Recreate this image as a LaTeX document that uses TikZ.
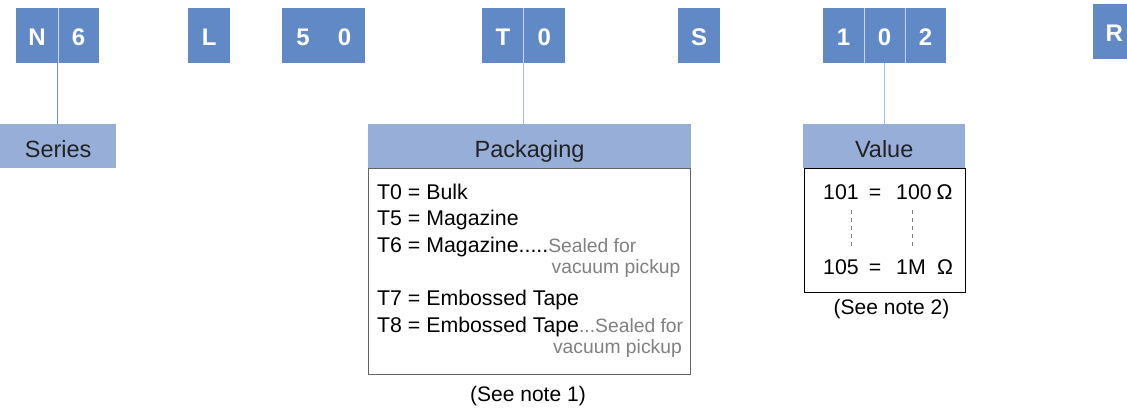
\documentclass[tikz,border=0pt]{standalone}
\usepackage{fontspec}
\setmainfont{Liberation Sans}
\usetikzlibrary{calc}
\definecolor{topblue}{RGB}{97,137,198}
\definecolor{hdrblue}{RGB}{151,174,216}
\definecolor{connA}{RGB}{108,143,203}
\definecolor{connB}{RGB}{165,188,227}
\definecolor{divcol}{RGB}{200,214,238}
\definecolor{hdrtext}{RGB}{34,34,34}
\definecolor{graytext}{RGB}{128,128,128}
\definecolor{packline}{RGB}{100,100,100}
\begin{document}
\begin{tikzpicture}[x=1pt,y=-1pt,
  cell/.style={fill=topblue, draw=none, inner sep=0pt, anchor=north west,
    minimum height=54.7pt, text=white,
    font=\fontsize{24}{24}\selectfont\bfseries, text height=19.8pt, text depth=0pt},
  divider/.style={draw=divcol, line width=0.8pt},
  hdr/.style={fill=hdrblue, draw=none, inner sep=0pt, anchor=north west,
    minimum height=44pt, text=hdrtext,
    font=\fontsize{23.5}{23.5}\selectfont, text height=22pt, text depth=0pt},
  outline/.style={inner sep=0pt, anchor=north west, line width=0.8pt},
  item/.style={inner sep=0pt, anchor=base west, font=\fontsize{21.3}{21.3}\selectfont},
  grayitem/.style={inner sep=0pt, font=\fontsize{19.3}{19.3}\selectfont, text=graytext},
  note/.style={inner sep=0pt, anchor=base, font=\fontsize{21}{21}\selectfont},
  conn/.style={line width=1pt},
  vdash/.style={draw=graytext, line width=0.8pt, dash pattern=on 4pt off 4pt}
]
\useasboundingbox (0,0) rectangle (1127,407);
\clip (0,0) rectangle (1127,407);

% top code cells
\node[cell, minimum width=41.5pt] (cN) at (16,8) {N};
\node[cell, minimum width=41.5pt] (c6) at (57.5,8) {6};
\node[cell, minimum width=42pt] (cL) at (188,8) {L};
\node[cell, minimum width=41.5pt] (c5) at (282,8) {5};
\node[cell, minimum width=41.5pt] (c0a) at (323.5,8) {0};
\node[cell, minimum width=41.4pt] (cT) at (482,8) {T};
\node[cell, minimum width=41.4pt] (c0b) at (523.4,8) {0};
\node[cell, minimum width=42pt] (cS) at (678,8) {S};
\node[cell, minimum width=40.9pt] (c1) at (823,8) {1};
\node[cell, minimum width=40.9pt] (c0c) at (863.9,8) {0};
\node[cell, minimum width=40.9pt] (c2) at (904.8,8) {2};
\node[cell, minimum width=42pt] (cR) at (1093,4) {R};

\draw[divider] (cN.north east) -- (cN.south east);
\draw[divider] (cT.north east) -- (cT.south east);
\draw[divider] (c1.north east) -- (c1.south east);
\draw[divider] (c0c.north east) -- (c0c.south east);

% header boxes
\node[hdr, minimum width=116pt] (series) at (0,124) {Series};
\node[hdr, minimum width=322.7pt] (pack) at (368,124) {Packaging};
\node[hdr, minimum width=162pt] (value) at (803,124) {Value};

% outline boxes
\node[outline, draw=packline, minimum width=322.5pt, minimum height=206pt] (packlist) at (367.5,168) {};
\node[outline, draw=black, minimum width=161pt, minimum height=124pt] (vallist) at (803.5,168) {};

% connectors
\draw[conn, draw=connA] (cN.south east) -- (cN.south east |- series.north);
\draw[conn, draw=connB] (cT.south east) -- (cT.south east |- pack.north);
\draw[conn, draw=connB] (c0c.south) -- (c0c.south |- value.north);

% packaging list
\node[item] (t0) at (377,199) {T0 = Bulk};
\node[item] (t5) at (377,225.7) {T5 = Magazine};
\node[item] (t6) at (377,252.3) {T6 = Magazine.....\textcolor{graytext}{\fontsize{19.3}{19.3}\selectfont Sealed for}};
\node[grayitem, anchor=base west] (t6b) at (551.5,273.5) {vacuum pickup};
\node[item] (t7) at (377,305.7) {T7 = Embossed Tape};
\node[item] (t8) at (377,332.3) {T8 = Embossed Tape\textcolor{graytext}{\fontsize{19.3}{19.3}\selectfont ...Sealed for}};
\node[grayitem, anchor=base east] (t8b) at (682,353.5) {vacuum pickup};

% value list
\node[item] (v101) at (823,199.3) {101};
\node[item, anchor=base] (veq1) at (875,199.3) {=};
\node[item] (v100) at (896,199.3) {100};
\node[item] (vom1) at (936.5,199.3) {Ω};
\node[item] (v105) at (823,274) {105};
\node[item, anchor=base] (veq2) at (875,274) {=};
\node[item] (v1M) at (896,274) {1M};
\node[item] (vom2) at (937,274) {Ω};
\draw[vdash] (851,210) coordinate (d1a) -- (d1a |- 0,248);
\draw[vdash] (912,210) coordinate (d2a) -- (d2a |- 0,248);

% notes
\node[note] (note1) at (528,401.5) {(See note 1)};
\node[note] (note2) at (891.5,314) {(See note 2)};
\end{tikzpicture}
\end{document}
